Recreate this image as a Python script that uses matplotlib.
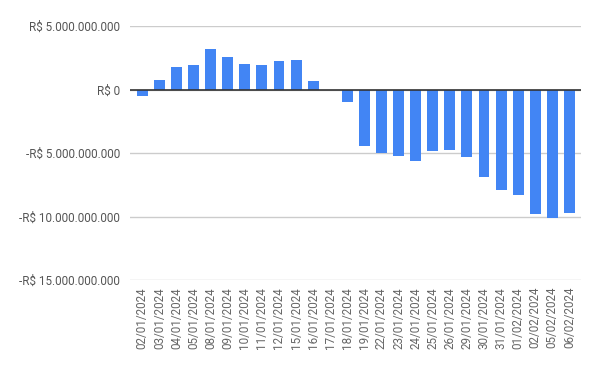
import numpy as np
import matplotlib.pyplot as plt
from matplotlib.ticker import FuncFormatter

datas = ['02/01/2024', '03/01/2024', '04/01/2024', '05/01/2024', '08/01/2024',
         '09/01/2024', '10/01/2024', '11/01/2024', '12/01/2024', '15/01/2024',
         '16/01/2024', '17/01/2024', '18/01/2024', '19/01/2024', '22/01/2024',
         '23/01/2024', '24/01/2024', '25/01/2024', '26/01/2024', '29/01/2024',
         '30/01/2024', '31/01/2024', '01/02/2024', '02/02/2024', '05/02/2024',
         '06/02/2024']
# valores em bilhoes de reais
valores = [-0.50, 0.73, 1.76, 1.92, 3.18, 2.55, 2.00, 1.92, 2.23, 2.31,
           0.65, 0.0, -0.96, -4.42, -5.00, -5.24, -5.63, -4.84, -4.76, -5.32,
           -6.89, -7.92, -8.32, -9.82, -10.10, -9.74]
yticks = [5e9, 0, -5e9, -10e9, -15e9]

plt.rcParams['font.family'] = ['Roboto', 'DejaVu Sans']

def reais(v, pos):
    s = '{:,.0f}'.format(abs(v)).replace(',', '.')
    return ('-R$ ' if v < 0 else 'R$ ') + s

fig = plt.figure(figsize=(6, 3.71), dpi=100)
ax = fig.add_axes([130 / 600, 1 - 280 / 371, 451 / 600, 254 / 371])

x = np.arange(len(datas))
ax.bar(x, np.array(valores) * 1e9, width=0.64, color='#4285F4', zorder=3)

ax.set_ylim(-15e9, 5e9)
ax.set_xlim(-0.72, len(datas) - 1 + 0.68)
ax.set_yticks(yticks)
ax.yaxis.set_major_formatter(FuncFormatter(reais))
ax.set_xticks(x)
ax.set_xticklabels(datas, rotation=90)

ax.grid(axis='y', color='#cccccc', linewidth=1, zorder=0)
ax.axhline(0, color='#333333', linewidth=1.2, zorder=4)
for s in ax.spines.values():
    s.set_visible(False)
ax.tick_params(axis='y', length=0, pad=7, labelsize=8.4, labelcolor='#555555')
ax.tick_params(axis='x', length=0, pad=5, labelsize=8.4, labelcolor='#666666')

fig.savefig('out.png', dpi=100)
